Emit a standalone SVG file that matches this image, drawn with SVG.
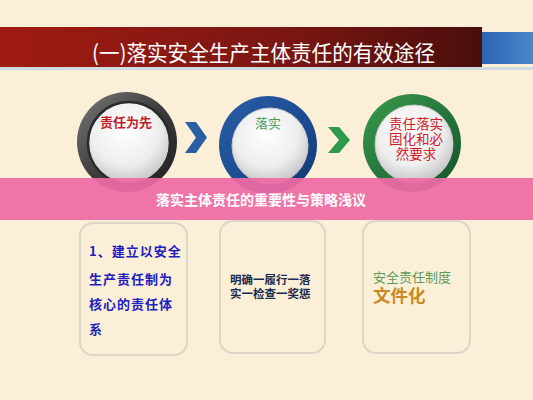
<svg xmlns="http://www.w3.org/2000/svg" width="533" height="400" viewBox="0 0 533 400">
<defs>
<linearGradient id="red" x1="0" y1="0" x2="1" y2="0">
<stop offset="0" stop-color="#a01c12"/><stop offset="0.6" stop-color="#7a1612"/><stop offset="1" stop-color="#4a0e0c"/>
</linearGradient>
<linearGradient id="blue" x1="0" y1="0" x2="1" y2="0">
<stop offset="0" stop-color="#2a62b0"/><stop offset="1" stop-color="#4a86cc"/>
</linearGradient>
<linearGradient id="gRing" x1="0" y1="0" x2="1" y2="1">
<stop offset="0" stop-color="#7a7a7a"/><stop offset="0.5" stop-color="#3c3c3c"/><stop offset="1" stop-color="#1e1e1e"/>
</linearGradient>
<linearGradient id="bRing" x1="0" y1="0" x2="1" y2="1">
<stop offset="0" stop-color="#2a5ea8"/><stop offset="0.6" stop-color="#1a4a8e"/><stop offset="1" stop-color="#12366e"/>
</linearGradient>
<linearGradient id="grRing" x1="0" y1="0" x2="1" y2="1">
<stop offset="0" stop-color="#3a9a4c"/><stop offset="0.6" stop-color="#22703a"/><stop offset="1" stop-color="#14502a"/>
</linearGradient>
<radialGradient id="disc" cx="0.45" cy="0.35" r="0.7">
<stop offset="0" stop-color="#ffffff"/><stop offset="0.6" stop-color="#eeeeee"/><stop offset="1" stop-color="#bdbdbd"/>
</radialGradient>
<style>
.cjk{font-family:"Noto Sans CJK SC","Noto Sans",sans-serif;}
.box{fill:none;stroke:#dcd5c8;stroke-width:2;}
.disc{fill:url(#disc);stroke:#c8c8c8;stroke-width:1;}
.dark{stroke:#2a2a2a;stroke-width:2.5;}
</style>
</defs>
<rect width="533" height="400" fill="#fcefd7"/>
<g id="banner">
<rect x="478" y="32" width="55" height="32" fill="url(#blue)"/>
<rect x="0" y="67" width="533" height="3" fill="#bcd0e4" opacity="0.7"/>
<rect x="0" y="27" width="482" height="40" fill="url(#red)"/>
<text class="cjk" x="92" y="61" font-size="22" fill="#ffffff" textLength="343" lengthAdjust="spacingAndGlyphs">(一)落实安全生产主体责任的有效途径</text>
</g>
<g id="circle1">
<circle cx="127" cy="142" r="50" fill="url(#gRing)"/>
<circle cx="129" cy="143" r="41" class="disc dark"/>
<text class="cjk" x="126" y="127" font-size="13" font-weight="bold" fill="#c21e2a" text-anchor="middle">责任为先</text>
</g>
<g id="circle2">
<circle cx="268" cy="145" r="49" fill="url(#bRing)"/>
<circle cx="270" cy="146" r="38" class="disc"/>
<text class="cjk" x="268" y="128" font-size="13" fill="#4a9a5a" text-anchor="middle">落实</text>
</g>
<g id="circle3">
<circle cx="412" cy="143" r="49" fill="url(#grRing)"/>
<circle cx="414" cy="144" r="39" class="disc"/>
<text class="cjk" font-size="13.5" fill="#d0202a" text-anchor="middle"><tspan x="416" y="129">责任落实</tspan><tspan x="416" y="144">固化和必</tspan><tspan x="416" y="159">然要求</tspan></text>
</g>
<g id="connectors">
<polygon points="185,122 196,122 207,137.5 196,153 185,153 196,137.5" fill="#2a5ea4"/>
<polygon points="328,127 339,127 350,140 339,153 328,153 339,140" fill="#2e9a4a"/>
</g>
<g id="band">
<rect x="0" y="178" width="533" height="42" fill="#ee6aa4" opacity="0.93"/>
<text class="cjk" x="261" y="205" font-size="14" font-weight="bold" fill="#ffffff" text-anchor="middle">落实主体责任的重要性与策略浅议</text>
</g>
<g id="box1">
<rect x="80" y="223" width="107" height="132" rx="13" class="box"/>
<text class="cjk" font-size="13" font-weight="bold" fill="#2020c0" letter-spacing="1"><tspan x="89" y="256">1、建立以安全</tspan><tspan x="89" y="284">生产责任制为</tspan><tspan x="89" y="309">核心的责任体</tspan><tspan x="89" y="334">系</tspan></text>
</g>
<g id="box2">
<rect x="220" y="221" width="105" height="132" rx="13" class="box"/>
<text class="cjk" font-size="11.5" font-weight="bold" fill="#1a2c50"><tspan x="230" y="284">明确一履行一落</tspan><tspan x="230" y="298">实一检查一奖惩</tspan></text>
</g>
<g id="box3">
<rect x="363" y="221" width="107" height="132" rx="13" class="box"/>
<text class="cjk" x="373" y="282" font-size="13" fill="#5a9a5a">安全责任制度</text>
<text class="cjk" x="373" y="302" font-size="17.5" font-weight="bold" fill="#c88a24">文件化</text>
</g>
</svg>
